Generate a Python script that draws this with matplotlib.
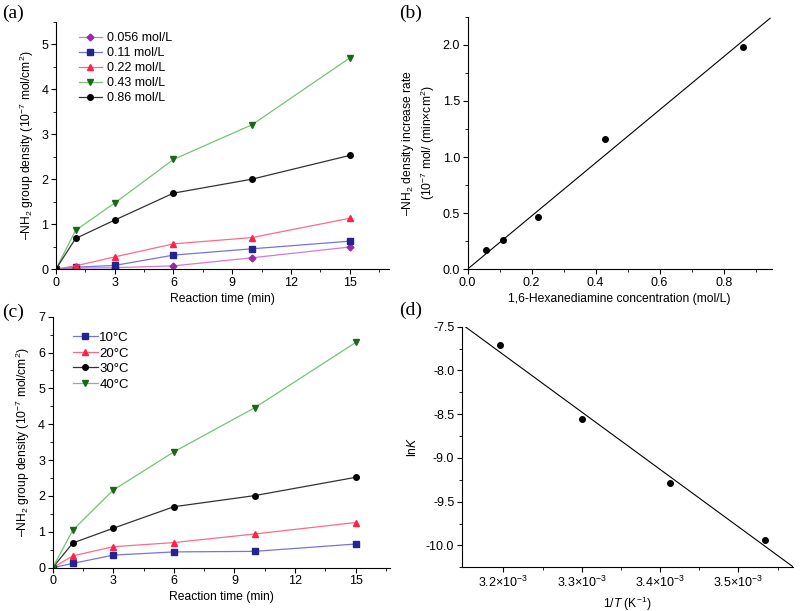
import numpy as np
import matplotlib
matplotlib.use("Agg")
import matplotlib.pyplot as plt
from matplotlib.ticker import MultipleLocator, FixedLocator, FormatStrFormatter

plt.rcParams['font.family'] = ['Liberation Sans', 'DejaVu Sans']
plt.rcParams['mathtext.fontset'] = 'custom'
plt.rcParams['mathtext.rm'] = 'Liberation Sans'
plt.rcParams['mathtext.it'] = 'Liberation Sans:italic'

# ---- data ----
time_min = [0, 1, 3, 6, 10, 15]

conc_labels = ['0.056 mol/L', '0.11 mol/L', '0.22 mol/L', '0.43 mol/L', '0.86 mol/L']
conc_056 = [0, 0.02, 0.03, 0.07, 0.25, 0.49]
conc_011 = [0, 0.04, 0.08, 0.31, 0.45, 0.62]
conc_022 = [0, 0.07, 0.27, 0.56, 0.70, 1.13]
conc_043 = [0, 0.86, 1.47, 2.44, 3.21, 4.70]
conc_086 = [0, 0.68, 1.09, 1.69, 2.00, 2.53]

rate_conc = [0.056, 0.11, 0.22, 0.43, 0.86]
rate_vals = [0.17, 0.26, 0.46, 1.16, 1.98]

temp_labels = ['10°C', '20°C', '30°C', '40°C']
temp_10 = [0, 0.12, 0.35, 0.44, 0.455, 0.66]
temp_20 = [0, 0.33, 0.585, 0.70, 0.94, 1.26]
temp_30 = [0, 0.69, 1.10, 1.70, 2.01, 2.52]
temp_40 = [0, 1.05, 2.165, 3.23, 4.46, 6.28]

inv_T = [3.195e-3, 3.300e-3, 3.413e-3, 3.534e-3]
lnK = [-7.71, -8.55, -9.29, -9.94]

# styles: (line colour, marker colour, marker)
styles = {
    'purple': ('#d47ad4', '#9a2aa8', 'D'),
    'blue': ('#7474e0', '#232392', 's'),
    'red': ('#ff6a86', '#ff2244', '^'),
    'green': ('#74c474', '#1c661c', 'v'),
    'black': ('#333333', '#000000', 'o'),
}

TICK = 9
LAB = 8.7


def style_axes(ax):
    for s in ['top', 'right']:
        ax.spines[s].set_visible(False)
    ax.tick_params(which='major', direction='out', length=3.5, width=0.8, labelsize=TICK, pad=2)
    ax.tick_params(which='minor', direction='out', length=2, width=0.6)


def draw_series(ax, x, y, key, label):
    lc, mc, m = styles[key]
    ms = 4 if m != 'D' else 3.5
    ax.plot(x, y, color=lc, lw=0.9, marker=m, ms=ms, mfc=mc, mec=mc, label=label)


fig = plt.figure(figsize=(8.03, 6.11), dpi=100)

# (a)
ax1 = fig.add_axes([0.0697, 0.5597, 0.4147, 0.4043])
for y, key, lab in zip([conc_056, conc_011, conc_022, conc_043, conc_086],
                       ['purple', 'blue', 'red', 'green', 'black'], conc_labels):
    draw_series(ax1, time_min, y, key, lab)
ax1.set_xlim(0, 17)
ax1.set_ylim(0, 5.5)
ax1.xaxis.set_major_locator(FixedLocator([0, 3, 6, 9, 12, 15]))
ax1.xaxis.set_minor_locator(MultipleLocator(1.5))
ax1.yaxis.set_major_locator(MultipleLocator(1))
ax1.yaxis.set_minor_locator(MultipleLocator(0.5))
ax1.set_xlabel('Reaction time (min)', fontsize=LAB, labelpad=3)
ax1.set_ylabel('–NH$_2$ group density (10$^{-7}$ mol/cm$^2$)', fontsize=LAB, labelpad=4)
style_axes(ax1)
ax1.legend(loc='upper left', bbox_to_anchor=(0.068, 0.96), frameon=False, fontsize=9,
           handlelength=1.9, handletextpad=0.4, labelspacing=0.25, borderaxespad=0, borderpad=0)

# (b)
ax2 = fig.add_axes([0.5824, 0.5597, 0.3786, 0.4125])
ax2.scatter(rate_conc, rate_vals, s=16, color='black', zorder=3)
k = np.sum(np.array(rate_conc) * np.array(rate_vals)) / np.sum(np.array(rate_conc) ** 2)
xf = np.linspace(0, 0.945, 50)
ax2.plot(xf, k * xf, color='black', lw=0.8)
ax2.set_xlim(0, 0.95)
ax2.set_ylim(0, 2.25)
ax2.xaxis.set_major_locator(MultipleLocator(0.2))
ax2.xaxis.set_minor_locator(MultipleLocator(0.1))
ax2.yaxis.set_major_locator(MultipleLocator(0.5))
ax2.yaxis.set_minor_locator(MultipleLocator(0.25))
ax2.xaxis.set_major_formatter(FormatStrFormatter('%.1f'))
ax2.yaxis.set_major_formatter(FormatStrFormatter('%.1f'))
ax2.set_xlabel('1,6-Hexanediamine concentration (mol/L)', fontsize=LAB, labelpad=3)
ax2.set_ylabel('–NH$_2$ density increase rate\n(10$^{-7}$ mol/ (min×cm$^2$)', fontsize=LAB, labelpad=4)
style_axes(ax2)

# (c)
ax3 = fig.add_axes([0.0656, 0.0709, 0.4201, 0.4108])
for y, key, lab in zip([temp_10, temp_20, temp_30, temp_40],
                       ['blue', 'red', 'black', 'green'], temp_labels):
    draw_series(ax3, time_min, y, key, lab)
ax3.set_xlim(0, 16.7)
ax3.set_ylim(0, 7)
ax3.xaxis.set_major_locator(FixedLocator([0, 3, 6, 9, 12, 15]))
ax3.xaxis.set_minor_locator(MultipleLocator(1.5))
ax3.yaxis.set_major_locator(MultipleLocator(1))
ax3.yaxis.set_minor_locator(MultipleLocator(0.5))
ax3.set_xlabel('Reaction time (min)', fontsize=LAB, labelpad=3)
ax3.set_ylabel('–NH$_2$ group density (10$^{-7}$ mol/cm$^2$)', fontsize=LAB, labelpad=4)
style_axes(ax3)
ax3.legend(loc='upper left', bbox_to_anchor=(0.06, 0.94), frameon=False, fontsize=9.5,
           handlelength=1.9, handletextpad=0.1, labelspacing=0.25, borderaxespad=0, borderpad=0)

# (d)
ax4 = fig.add_axes([0.5753, 0.0715, 0.4126, 0.3938])
ax4.scatter(inv_T, lnK, s=16, color='black', zorder=3)
xl = (3.147e-3, 3.570e-3)
b, a = np.polyfit(inv_T, lnK, 1)
xf = np.linspace(xl[0], xl[1], 50)
ax4.plot(xf, a + b * xf, color='black', lw=0.8)
ax4.set_xlim(*xl)
ax4.set_ylim(-10.25, -7.5)
ax4.xaxis.set_major_locator(FixedLocator([3.2e-3, 3.3e-3, 3.4e-3, 3.5e-3]))
ax4.xaxis.set_minor_locator(FixedLocator([3.25e-3, 3.35e-3, 3.45e-3, 3.55e-3]))
ax4.set_xticklabels(['3.2×10$^{-3}$', '3.3×10$^{-3}$', '3.4×10$^{-3}$', '3.5×10$^{-3}$'])
ax4.yaxis.set_major_locator(MultipleLocator(0.5))
ax4.yaxis.set_minor_locator(MultipleLocator(0.25))
ax4.yaxis.set_major_formatter(FormatStrFormatter('%.1f'))
ax4.set_xlabel('1/$T$ (K$^{-1}$)', fontsize=LAB, labelpad=3)
ax4.set_ylabel('ln$K$', fontsize=LAB, labelpad=5)
style_axes(ax4)

# panel letters
for x, y, t in [(0.003, 0.970, '(a)'), (0.497, 0.970, '(b)'),
                (0.003, 0.481, '(c)'), (0.497, 0.484, '(d)')]:
    fig.text(x, y, t, fontsize=14, family='Liberation Serif', va='baseline')

fig.savefig('out.png', dpi=100)
